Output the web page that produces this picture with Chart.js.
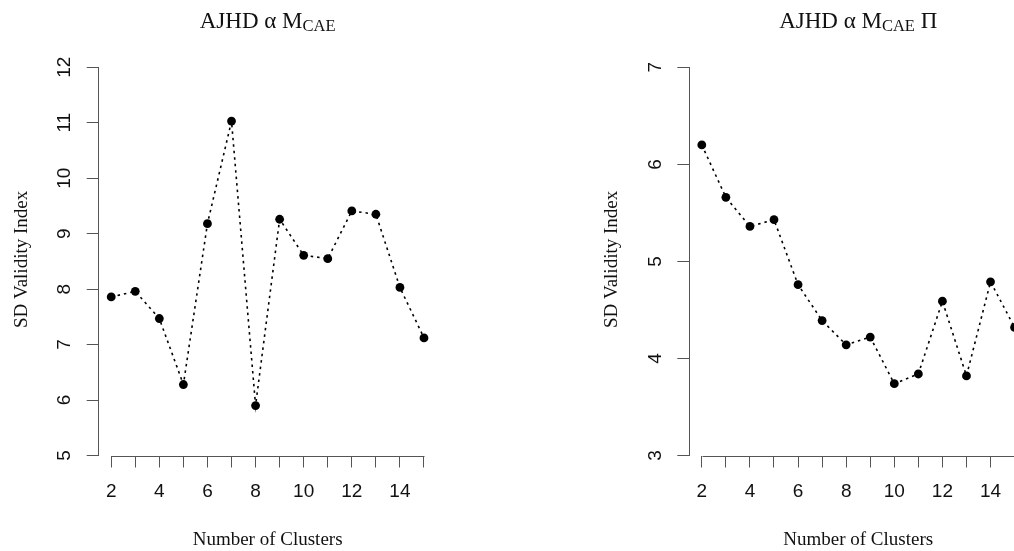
<!DOCTYPE html>
<html>
<head>
<meta charset="utf-8">
<script src="https://cdn.jsdelivr.net/npm/chart.js@4/dist/chart.umd.min.js"></script>
<style>
  html, body { margin: 0; padding: 0; background: #fff; overflow: hidden; }
  #wrap { position: relative; width: 1014px; height: 551px; overflow: hidden; }
  canvas { position: absolute; top: 0; }
</style>
</head>
<body>
<div id="wrap">
  <canvas id="left" width="507" height="551" style="left:0"></canvas>
  <canvas id="right" width="600" height="551" style="left:507px"></canvas>
</div>
<script>
const clusters = [2, 3, 4, 5, 6, 7, 8, 9, 10, 11, 12, 13, 14, 15];
const sdCae = [7.86, 7.96, 7.47, 6.28, 9.18, 11.03, 5.90, 9.26, 8.61, 8.55, 9.41, 9.35, 8.03, 7.12];
const sdCaePi = [6.20, 5.66, 5.36, 5.43, 4.76, 4.39, 4.14, 4.22, 3.74, 3.84, 4.59, 3.82, 4.79, 4.32];
const yTicksCae = [5, 6, 7, 8, 9, 10, 11, 12];
const yTicksCaePi = [3, 4, 5, 6, 7];
const xLabel = 'Number of Clusters';
const yLabel = 'SD Validity Index';

const serif = '"Liberation Serif", "DejaVu Serif", serif';
const sans = '"Liberation Sans", Arial, sans-serif';
const axisColor = '#555';
const textColor = '#111';

// draws title (with subscript), axis titles, rotated y labels and the short x axis line
const decorPlugin = {
    id: 'decor',
    afterDraw(chart, args, opts) {
        const ctx = chart.ctx;
        const area = chart.chartArea;
        const xs = chart.scales.x;
        const ys = chart.scales.y;
        const cx = (area.left + area.right) / 2;
        ctx.save();

        // x axis line only from first to last tick
        ctx.strokeStyle = axisColor;
        ctx.lineWidth = 1;
        ctx.beginPath();
        const by = Math.round(area.bottom) + 0.5;
        ctx.moveTo(Math.round(xs.getPixelForValue(clusters[0])) + 0.5, by);
        ctx.lineTo(Math.round(xs.getPixelForValue(clusters[clusters.length - 1])) + 0.5, by);
        ctx.stroke();

        // y tick labels, parallel to the axis
        ctx.fillStyle = textColor;
        ctx.font = '19px ' + sans;
        ctx.textAlign = 'center';
        ctx.textBaseline = 'middle';
        ys.ticks.forEach(t => {
            ctx.save();
            ctx.translate(area.left - 33.7, ys.getPixelForValue(t.value));
            ctx.rotate(-Math.PI / 2);
            ctx.fillText(String(t.value), 0, 0);
            ctx.restore();
        });

        // axis titles
        ctx.font = '19px ' + serif;
        ctx.textBaseline = 'alphabetic';
        ctx.fillText(xLabel, cx, 545);
        ctx.save();
        ctx.translate(area.left - 72, (area.top + area.bottom) / 2 - 2);
        ctx.rotate(-Math.PI / 2);
        ctx.fillText(yLabel, 0, 0);
        ctx.restore();

        // main title made of parts: [text, isSubscript]
        const parts = opts.title;
        const mainFont = '23px ' + serif;
        const subFont = '16.5px ' + serif;
        let total = 0;
        parts.forEach(p => {
            ctx.font = p[1] ? subFont : mainFont;
            total += ctx.measureText(p[0]).width;
        });
        let x = cx - total / 2;
        ctx.textAlign = 'left';
        parts.forEach(p => {
            ctx.font = p[1] ? subFont : mainFont;
            ctx.fillText(p[0], x, p[1] ? 31 : 27.5);
            x += ctx.measureText(p[0]).width;
        });
        ctx.restore();
    }
};

const makeChart = (canvasId, values, yTicks, title, padLeft, padRight) => {
    const points = clusters.map((c, i) => ({ x: c, y: values[i] }));

    const config = {
        type: 'scatter',
        data: {
            datasets: [{
                data: points,
                showLine: true,
                borderColor: '#000',
                borderWidth: 1.6,
                borderDash: [2.5, 4],
                pointRadius: 4.4,
                pointBackgroundColor: '#000',
                pointBorderWidth: 0,
                clip: false
            }]
        },
        options: {
            responsive: false,
            devicePixelRatio: 1,
            animation: false,
            // bottom padding + x scale height (60) puts the plot bottom at 455.5
            layout: { padding: { left: padLeft, right: padRight, top: 67.3, bottom: 35.5 } },
            plugins: {
                legend: { display: false },
                tooltip: { enabled: false },
                decor: { title: title }
            },
            scales: {
                x: {
                    type: 'linear',
                    min: 1.48,
                    max: 15.52,
                    afterBuildTicks: (scale) => { scale.ticks = clusters.map(v => ({ value: v })); },
                    afterFit: (scale) => { scale.height = 60; },
                    border: { display: false },
                    grid: { drawOnChartArea: false, drawTicks: true, tickLength: 12, color: axisColor, lineWidth: 1 },
                    ticks: {
                        autoSkip: false,
                        maxRotation: 0,
                        padding: 13,
                        color: textColor,
                        font: { family: sans, size: 19 },
                        callback: (value) => (value % 2 === 0 ? String(value) : '')
                    }
                },
                y: {
                    type: 'linear',
                    min: yTicks[0],
                    max: yTicks[yTicks.length - 1],
                    afterBuildTicks: (scale) => { scale.ticks = yTicks.map(v => ({ value: v })); },
                    afterFit: (scale) => { scale.width = 0; },
                    border: { display: true, color: axisColor, width: 1 },
                    grid: { drawOnChartArea: false, drawTicks: true, tickLength: 12, color: axisColor, lineWidth: 1 },
                    ticks: { display: false }
                }
            }
        },
        plugins: [decorPlugin]
    };

    return new Chart(document.getElementById(canvasId), config);
};

makeChart('left', sdCae, yTicksCae,
    [['AJHD \u03B1 M', false], ['CAE', true]], 98.7, 70.5);
makeChart('right', sdCaePi, yTicksCaePi,
    [['AJHD \u03B1 M', false], ['CAE', true], [' \u03A0', false]], 182.3, 79.9);
</script>
</body>
</html>
